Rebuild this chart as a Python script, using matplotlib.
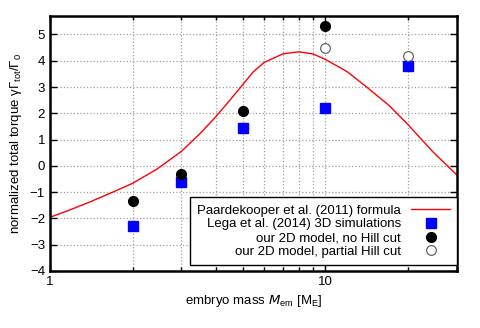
import numpy as np
import matplotlib
matplotlib.use("Agg")
import matplotlib.pyplot as plt
from matplotlib.ticker import LogLocator, NullFormatter, FixedLocator, FixedFormatter

plt.rcParams['font.family'] = ['Liberation Sans', 'DejaVu Sans']
plt.rcParams['mathtext.default'] = 'regular'

# Paardekooper et al. (2011) formula
formula_m = [1.0, 1.18, 1.4, 1.65, 2.0, 2.45, 3.0, 3.5, 4.0, 4.5, 5.0, 5.47, 6.0, 7.0,
             8.0, 9.0, 10.0, 12.0, 14.1, 17.0, 20.0, 24.5, 30.0]
formula_torque = [-1.96, -1.68, -1.37, -1.05, -0.66, -0.12, 0.55, 1.22, 1.87, 2.5, 3.08,
                  3.58, 3.94, 4.26, 4.34, 4.26, 4.05, 3.58, 3.0, 2.3, 1.55, 0.54, -0.35]

# Lega et al. (2014) 3D simulations
lega_m = [2, 3, 5, 10, 20]
lega_torque = [-2.3, -0.62, 1.43, 2.2, 3.8]

# our 2D model, no Hill cut
nohill_m = [2, 3, 5, 10]
nohill_torque = [-1.35, -0.3, 2.08, 5.33]

# our 2D model, partial Hill cut
hill_m = [10, 20]
hill_torque = [4.47, 4.18]

fig = plt.figure(figsize=(4.8, 3.28), dpi=100)
ax = fig.add_axes([0.104, 0.174, 0.848, 0.777])

ax.plot(formula_m, formula_torque, color='red', lw=1.0,
        label='Paardekooper et al. (2011) formula')
ax.plot(lega_m, lega_torque, 's', color='blue', ms=7, ls='none',
        label='Lega et al. (2014) 3D simulations')
ax.plot(nohill_m, nohill_torque, 'o', color='black', ms=7, ls='none',
        label='our 2D model, no Hill cut')
ax.plot(hill_m, hill_torque, 'o', mfc='white', mec='#555555', mew=0.8, ms=7, ls='none',
        label='our 2D model, partial Hill cut')

ax.set_xscale('log')
ax.set_xlim(1, 30)
ax.set_ylim(-4, 5.7)
ax.set_yticks(range(-4, 6))
ax.xaxis.set_major_locator(FixedLocator([1, 10]))
ax.xaxis.set_major_formatter(FixedFormatter(['1', '10']))
ax.xaxis.set_minor_locator(LogLocator(base=10, subs=np.arange(2, 10)))
ax.xaxis.set_minor_formatter(NullFormatter())

ax.set_axisbelow(True)
ax.grid(True, which='both', axis='x', color='#a0a0a0', ls=':', lw=0.9)
ax.grid(True, which='major', axis='y', color='#a0a0a0', ls=':', lw=0.9)

ax.tick_params(which='both', direction='in', top=True, right=True, labelsize=9.5)
ax.tick_params(which='major', length=5, width=1.0)
ax.tick_params(which='minor', length=3, width=1.0)
for s in ax.spines.values():
    s.set_linewidth(1.8)

ax.set_xlabel(r'embryo mass $\mathit{M}_{em}$ [M$_E$]', fontsize=9.5)
ax.set_ylabel(r'normalized total torque γΓ$_{tot}$/Γ$_0$', fontsize=9.5)

leg = ax.legend(loc='lower right', bbox_to_anchor=(1.0, 0.022), borderaxespad=0,
                markerfirst=False, fancybox=False, framealpha=1,
                edgecolor='black', fontsize=9.5, labelspacing=0.12,
                handlelength=2.9, borderpad=0.55, handletextpad=0.8)
leg.get_frame().set_linewidth(1.0)
for t in leg.get_texts():
    t.set_ha('right')
leg._legend_box.align = 'right'

fig.savefig('out.png', dpi=100)
